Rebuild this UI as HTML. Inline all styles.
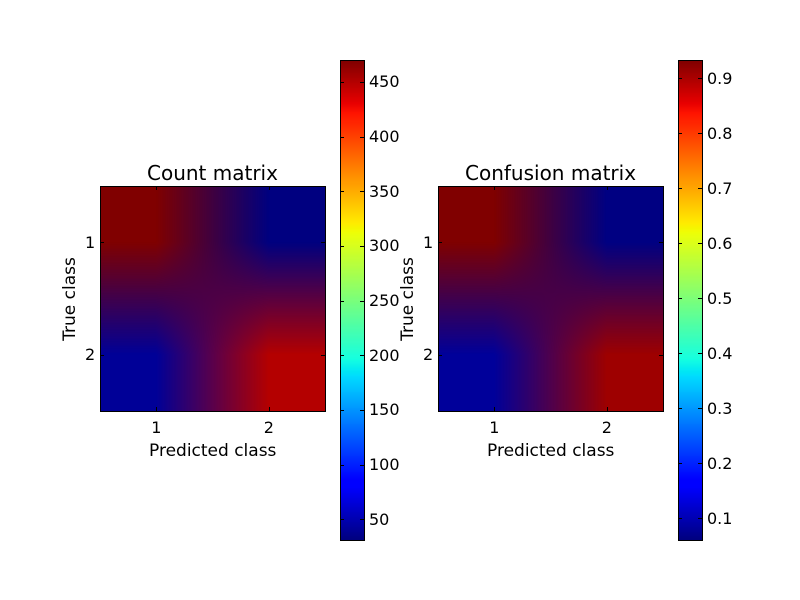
<!DOCTYPE html>
<html><head><meta charset="utf-8"><style>
body{margin:0;background:#fff;}
#root{position:relative;width:800px;height:600px;background:#fff;font-family:"DejaVu Sans","Liberation Sans",sans-serif;color:#000;}
canvas{position:absolute;}
.t{position:absolute;white-space:nowrap;}
.box{position:absolute;border:1px solid #000;box-sizing:border-box;}
.tick{position:absolute;background:#000;}
</style></head><body>
<div id="root"></div>
<script>
const countValues=[[470,31],[40,450]];
const confValues=[[0.933,0.062],[0.08,0.91]];
const classLabels=["1","2"];
const countTicks=[50,100,150,200,250,300,350,400,450];
const confTicks=[0.1,0.2,0.3,0.4,0.5,0.6,0.7,0.8,0.9];
const countRange=[31,470];
const confRange=[0.06,0.933];

const root=document.getElementById('root');
function jet(f){f=Math.max(0,Math.min(1,f));
 function seg(x,pts){for(let i=0;i<pts.length-1;i++){if(x<=pts[i+1][0]){const t=(x-pts[i][0])/(pts[i+1][0]-pts[i][0]);return pts[i][1]+t*(pts[i+1][1]-pts[i][1]);}}return pts[pts.length-1][1];}
 const r=seg(f,[[0,0],[0.35,0],[0.66,1],[0.89,1],[1,0.5]]);
 const g=seg(f,[[0,0],[0.125,0],[0.375,1],[0.64,1],[0.91,0],[1,0]]);
 const b=seg(f,[[0,0.5],[0.11,1],[0.34,1],[0.65,0],[1,0]]);
 return [r*255,g*255,b*255];}
function txt(s,x,y,size,anchor,name,rot){const d=document.createElement('div');d.className='t';d.textContent=s;d.style.fontSize=size+'px';
 
 
 root.appendChild(d);const w=d.offsetWidth,h=d.offsetHeight;
 let l=x,t=y-h/2;if(anchor==='c')l=x-w/2;else if(anchor==='r')l=x-w;
 d.style.left=l+'px';d.style.top=t+'px';if(rot){d.style.transform='rotate(-90deg)';}return d;}
function tick(x,y,w,h,name){const d=document.createElement('div');d.className='tick';d.style.left=x+'px';d.style.top=y+'px';d.style.width=w+'px';d.style.height=h+'px';
 
 
 root.appendChild(d);}
function panel(px,vals,range,ticks,title,prefix,cbx){
 const X=px,Y=186,S=225;
 const c=document.createElement('canvas');c.width=S;c.height=S;c.style.left=X+'px';c.style.top=Y+'px';
 
 
 root.appendChild(c);const ctx=c.getContext('2d');const im=ctx.createImageData(S,S);
 const n=vals.length;
 const cols=vals.map(r=>r.map(v=>jet((v-range[0])/(range[1]-range[0]))));
 for(let j=0;j<S;j++)for(let i=0;i<S;i++){
  let u=(i+0.5)/S*n-0.5,v=(j+0.5)/S*n-0.5;u=Math.max(0,Math.min(n-1,u));v=Math.max(0,Math.min(n-1,v));
  const i0=Math.min(n-2,Math.floor(u)),j0=Math.min(n-2,Math.floor(v)),fu=u-i0,fv=v-j0;
  const k=(j*S+i)*4;
  for(let ch=0;ch<3;ch++){
   im.data[k+ch]=cols[j0][i0][ch]*(1-fu)*(1-fv)+cols[j0][i0+1][ch]*fu*(1-fv)+cols[j0+1][i0][ch]*(1-fu)*fv+cols[j0+1][i0+1][ch]*fu*fv;}
  im.data[k+3]=255;}
 ctx.putImageData(im,0,0);
 const b=document.createElement('div');b.className='box';b.style.left=X+'px';b.style.top=Y+'px';b.style.width=(S+1)+'px';b.style.height=(S+1)+'px';
 
 
 root.appendChild(b);
 classLabels.forEach((l,k)=>{const p=(k+0.5)/n*S;
  tick(X+p,Y+S-4,1,4,prefix+'-x-tick');tick(X+p,Y,1,4,prefix+'-x-tick-top');
  tick(X,Y+p,4,1,prefix+'-y-tick');tick(X+S-4,Y+p,4,1,prefix+'-y-tick-right');
  txt(l,X+p,Y+S+16,16,'c',prefix+'-x-tick-label');
  txt(l,X-5,Y+p,16,'r',prefix+'-y-tick-label');});
 txt(title,X+S/2,Y-13,20,'c',prefix+'-title');
 txt('Predicted class',X+S/2,Y+S+40,17,'c',prefix+'-x-axis-title');
 txt('True class',X-30,Y+S/2,17,'c',prefix+'-y-axis-title',true);
 const CT=60,CH=480,CW=24;
 const cb=document.createElement('canvas');cb.width=CW;cb.height=CH;cb.style.left=cbx+'px';cb.style.top=CT+'px';
 
 
 root.appendChild(cb);const cc=cb.getContext('2d');
 for(let j=0;j<CH;j++){const col=jet(1-(j+0.5)/CH);cc.fillStyle=`rgb(${col[0]|0},${col[1]|0},${col[2]|0})`;cc.fillRect(0,j,CW,1);}
 const bb=document.createElement('div');bb.className='box';bb.style.left=cbx+'px';bb.style.top=CT+'px';bb.style.width=(CW+1)+'px';bb.style.height=(CH+1)+'px';
 
 
 root.appendChild(bb);
 ticks.forEach(t=>{const y=CT+CH-(t-range[0])/(range[1]-range[0])*CH;
  tick(cbx+CW-4,y,4,1,prefix+'-colorbar-tick');tick(cbx,y,4,1,prefix+'-colorbar-tick-left');
  txt(String(t),cbx+CW+5,y,16,'l',prefix+'-colorbar-tick-label');});
}
panel(100,countValues,countRange,countTicks,'Count matrix','count',340);
panel(438,confValues,confRange,confTicks,'Confusion matrix','confusion',678);
</script>
</body></html>
